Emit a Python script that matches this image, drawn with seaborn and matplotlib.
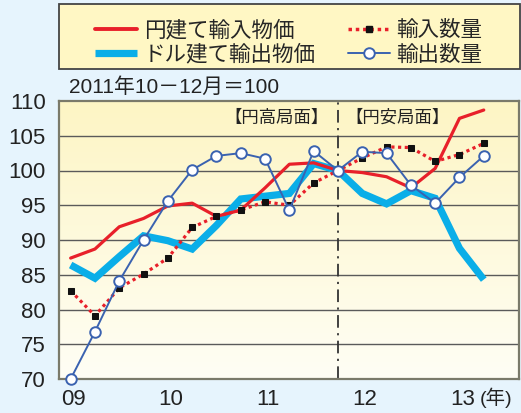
import numpy as np
import pandas as pd
import matplotlib
matplotlib.use("Agg")
import matplotlib.pyplot as plt
from matplotlib.lines import Line2D
from matplotlib.patches import Rectangle
import seaborn as sns

# ---------------- data ----------------
quarters = list(range(18))  # 2009Q1 .. 2013Q2
year_labels = ["09", "10", "11", "12", "13"]
yen_import_price = [87.4, 88.7, 91.9, 93.1, 94.9, 95.3, 93.4, 94.3, 97.5, 100.9,
                    101.1, 100.0, 99.7, 99.1, 97.5, 100.3, 107.5, 108.7]
usd_export_price = [86.4, 84.5, 87.6, 90.6, 89.9, 88.7, 92.1, 95.9, 96.3, 96.7,
                    101.0, 100.0, 96.7, 95.2, 97.1, 96.0, 88.8, 84.3]
import_volume = [82.7, 79.1, 83.1, 85.1, 87.4, 91.8, 93.4, 94.3, 95.5, 95.0,
                 98.2, 100.0, 101.8, 103.4, 103.3, 101.3, 102.3, 103.9]
export_volume = [70.0, 76.8, 84.1, 90.0, 95.6, 100.1, 102.1, 102.5, 101.7, 94.3,
                 102.8, 100.0, 102.7, 102.5, 97.9, 95.3, 99.0, 102.1]
yticks = [70, 75, 80, 85, 90, 95, 100, 105, 110]
names = ["円建て輸入物価", "ドル建て輸出物価", "輸入数量", "輸出数量"]

df = pd.DataFrame({"q": quarters, "yen_imp": yen_import_price, "usd_exp": usd_export_price,
                   "imp_vol": import_volume, "exp_vol": export_volume})

# ---------------- style ----------------
sns.set_style("white")
JP = ["Noto Sans CJK JP", "DejaVu Sans"]
NUM = ["Liberation Sans", "Noto Sans CJK JP", "DejaVu Sans"]
plt.rcParams["font.family"] = JP

RED = "#e8202a"
CYAN = "#0aaee8"
BLUE = "#3a62b0"
GRID = "#5a5a5a"
BG = "#e6f4fd"

W, H = 521, 413
fig = plt.figure(figsize=(W / 100, H / 100), dpi=100, facecolor=BG)
ax = fig.add_axes([58.5 / W, 1 - 379 / H, (519 - 58.5) / W, (379 - 101) / H])
ax.set_facecolor("none")

# gradient background
grad = np.linspace(0, 1, 256).reshape(-1, 1)
top = np.array([253, 245, 196]) / 255
bot = np.array([255, 254, 245]) / 255
img = top[None, None, :] * (1 - grad[:, :, None]) + bot[None, None, :] * grad[:, :, None]
ax.imshow(img, extent=[0, 1, 0, 1], transform=ax.transAxes, aspect="auto", zorder=0)

ax.set_xlim(-0.5, 18.45)
ax.set_ylim(70, 110)

for v in yticks[1:-1]:
    ax.axhline(v, color=GRID, lw=1.0, zorder=1)

# series
sns.lineplot(data=df, x="q", y="usd_exp", ax=ax, color=CYAN, lw=5.2, zorder=3,
             solid_joinstyle="miter", solid_capstyle="butt")
sns.lineplot(data=df, x="q", y="yen_imp", ax=ax, color=RED, lw=2.3, zorder=4)
sns.lineplot(data=df, x="q", y="imp_vol", ax=ax, color=RED, lw=2.3, zorder=5,
             linestyle=(0, (1, 1.1)), marker="s", markersize=3.8,
             markerfacecolor="#111111", markeredgecolor="#111111")
sns.lineplot(data=df, x="q", y="exp_vol", ax=ax, color=BLUE, lw=1.4, zorder=6,
             marker="o", markersize=7.6, markerfacecolor="white",
             markeredgecolor=BLUE, markeredgewidth=1.4, clip_on=False)

# dash-dot divider
ax.axvline(11, color="#333333", lw=1.3, linestyle=(0, (7, 3, 1.2, 3)), zorder=2)
ax.text(10.62, 107.6, "【円高局面】", ha="right", va="center", fontsize=12.5,
        color="#222222", family=JP, zorder=7)
ax.text(11.3, 107.6, "【円安局面】", ha="left", va="center", fontsize=12.5,
        color="#222222", family=JP, zorder=7)

# axes styling
for s in ["left", "bottom", "top", "right"]:
    ax.spines[s].set_visible(True)
    ax.spines[s].set_color("#7a7a6a")
    ax.spines[s].set_linewidth(1.6)
ax.set_xlabel("")
ax.set_ylabel("")
ax.set_yticks(yticks)
ax.set_yticklabels([str(v) for v in yticks], fontsize=16, color="#222222", family=NUM)
ax.tick_params(axis="y", length=0, pad=9)
ax.set_xticks([i * 4 + 0.12 for i in range(len(year_labels))])
ax.set_xticklabels(year_labels, fontsize=16, color="#222222", family=NUM)
ax.set_xticks([1.5 + 2 * k for k in range(9)], minor=True)
ax.tick_params(axis="x", which="major", length=0, pad=7)
ax.tick_params(axis="x", which="minor", direction="in", length=4.5, width=1.1, color="#444444")
fig.text(480 / W, 1 - 398 / H, "(年)", ha="left", va="center",
         fontsize=14, color="#222222", family=NUM)

fig.text(69 / W, 1 - 87 / H, "2011年10－12月＝100", ha="left", va="center",
         fontsize=15, color="#222222", family=NUM)

# legend frame + legend
fig.patches.append(Rectangle((58.5 / W, 1 - 69 / H), (519.5 - 58.5) / W, 65 / H,
                             transform=fig.transFigure, facecolor="#fff7c4",
                             edgecolor="#444444", lw=1.3, zorder=0))
handles = [
    Line2D([], [], color=RED, lw=2.8),
    Line2D([], [], color=CYAN, lw=5.2, solid_capstyle="butt"),
    Line2D([], [], color=RED, lw=2.5, linestyle=(0, (1, 1.1)), marker="s", markersize=4,
           markerfacecolor="#111111", markeredgecolor="#111111"),
    Line2D([], [], color=BLUE, lw=1.4, marker="o", markersize=7.6, markerfacecolor="white",
           markeredgecolor=BLUE, markeredgewidth=1.4),
]
fig.legend(handles, names, loc="center", bbox_to_anchor=((58.5 + 519.5) / 2 / W, 1 - 42.5 / H),
           ncol=2, frameon=False, handlelength=1.95, handletextpad=0.3,
           columnspacing=1.5, labelspacing=0.12, numpoints=1,
           prop={"family": JP, "size": 15.5})

fig.savefig("out.png", dpi=100, facecolor=BG)
